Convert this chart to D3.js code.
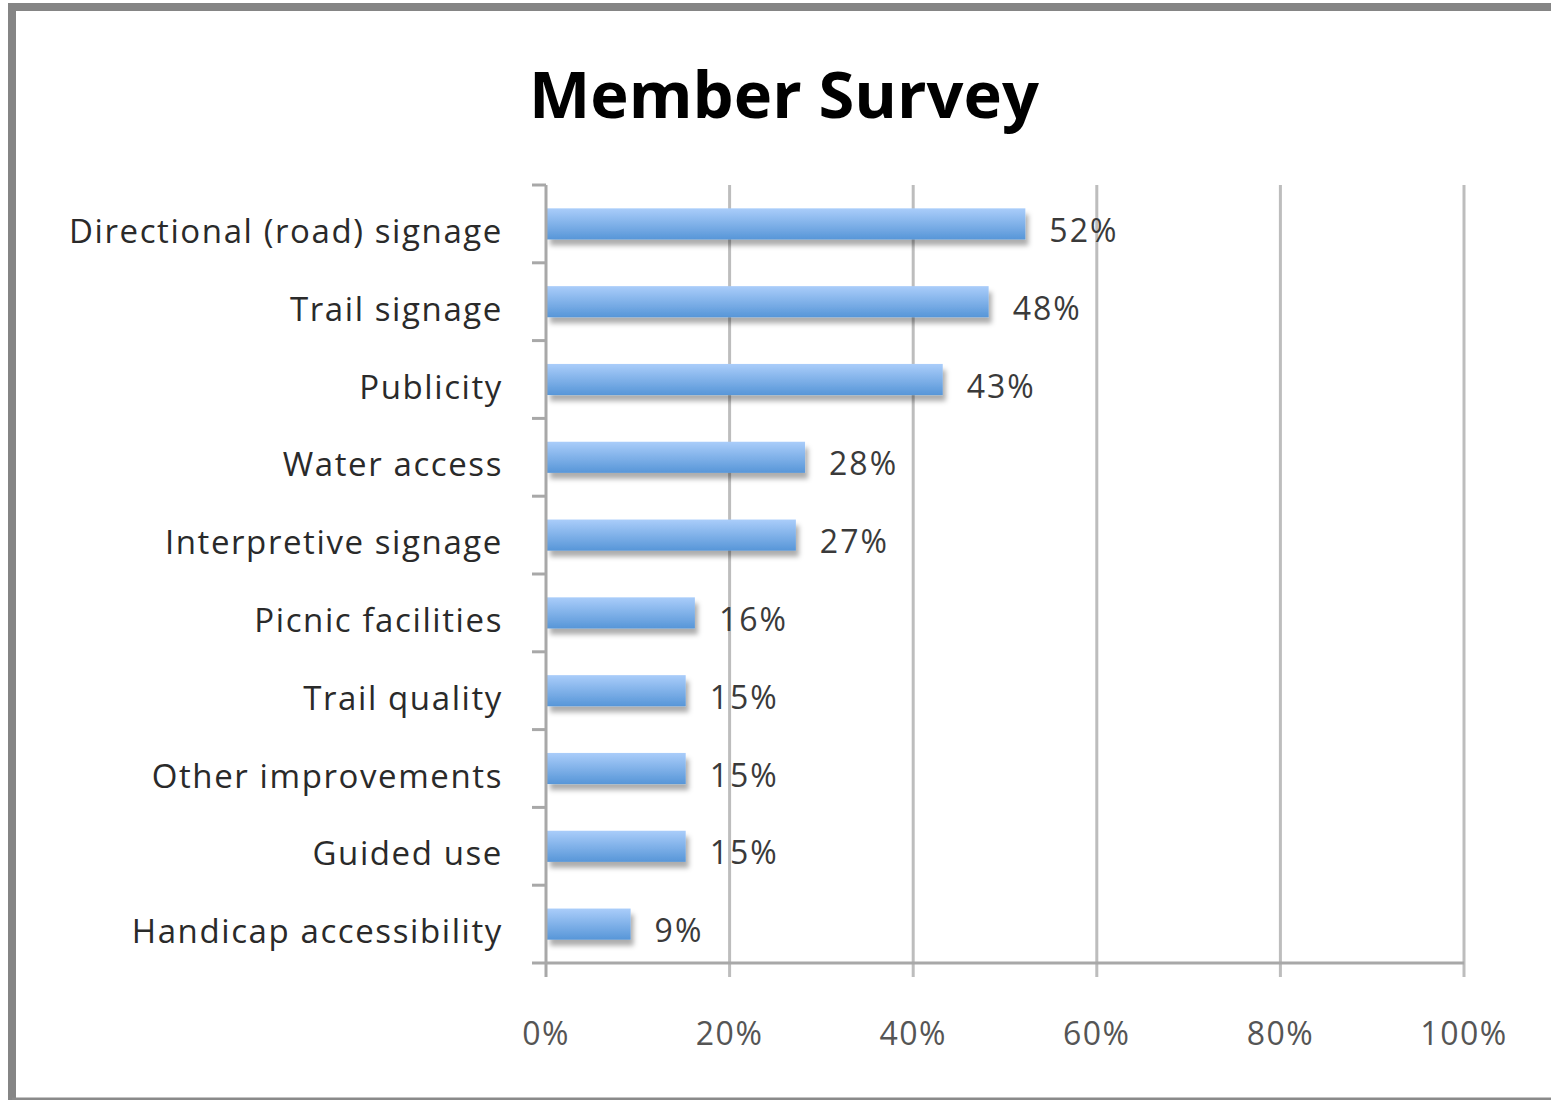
<!DOCTYPE html>
<html><head><meta charset="utf-8">
<script src="https://cdn.jsdelivr.net/npm/d3@7"></script>
<style>html,body{margin:0;padding:0;background:#fff;} svg{display:block;}</style>
</head><body>
<script>
const title = "Member Survey";
const categories = ["Directional (road) signage","Trail signage","Publicity","Water access","Interpretive signage","Picnic facilities","Trail quality","Other improvements","Guided use","Handicap accessibility"];
const values = [52,48,43,28,27,16,15,15,15,9];
const xTicks = [0,20,40,60,80,100];

const W = 1551, H = 1100;
const plot = {left:546, right:1464, top:185, bottom:963};
const svg = d3.select("body").append("svg").attr("width",W).attr("height",H);

const defs = svg.append("defs");
const grad = defs.append("linearGradient").attr("id","barGrad").attr("x1",0).attr("y1",0).attr("x2",0).attr("y2",1);
grad.append("stop").attr("offset","0%").attr("stop-color","#aacdfa");
grad.append("stop").attr("offset","100%").attr("stop-color","#5796d8");
const f = defs.append("filter").attr("id","shadow").attr("x","-5%").attr("y","-30%").attr("width","115%").attr("height","190%");
f.append("feDropShadow").attr("dx",3).attr("dy",6).attr("stdDeviation",2.5).attr("flood-color","#000").attr("flood-opacity",0.32);

// frame
svg.append("rect").attr("x",0).attr("y",0).attr("width",W).attr("height",H).attr("fill","#fff");
svg.append("line").attr("x1",12).attr("x2",W).attr("y1",7).attr("y2",7).attr("stroke","#858585").attr("stroke-width",8);
svg.append("line").attr("x1",12).attr("x2",12).attr("y1",3).attr("y2",H).attr("stroke","#858585").attr("stroke-width",8);
svg.append("line").attr("x1",12).attr("x2",W).attr("y1",1099).attr("y2",1099).attr("stroke","#8a8a8a").attr("stroke-width",3);

const x = d3.scaleLinear().domain([0,100]).range([plot.left, plot.right]);
const y = d3.scaleBand().domain(categories).range([plot.top, plot.bottom]).paddingInner(0.6).paddingOuter(0.3);
const yb = d3.scaleBand().domain(categories).range([plot.top, plot.bottom]);

// title
svg.append("text").attr("x",784).attr("y",118).attr("text-anchor","middle")
  .attr("font-family","Open Sans, sans-serif").attr("font-weight","bold").attr("font-size",65).attr("fill","#000").text(title);

// gridlines
svg.append("g").selectAll("line").data(xTicks.slice(1)).join("line")
  .attr("x1",d=>x(d)).attr("x2",d=>x(d)).attr("y1",plot.top).attr("y2",plot.bottom+14)
  .attr("stroke","#bdbdbd").attr("stroke-width",3);

// bars
svg.append("g").selectAll("rect").data(values).join("rect")
  .attr("x",x(0)+1).attr("y",(d,i)=>y(categories[i]))
  .attr("width",d=>x(d)-x(0)+1).attr("height",y.bandwidth())
  .attr("fill","url(#barGrad)").attr("filter","url(#shadow)");

// axes
svg.append("line").attr("x1",plot.left).attr("x2",plot.left).attr("y1",plot.top).attr("y2",plot.bottom+14)
  .attr("stroke","#a8a8a8").attr("stroke-width",3);
svg.append("line").attr("x1",plot.left-14).attr("x2",plot.right).attr("y1",plot.bottom).attr("y2",plot.bottom)
  .attr("stroke","#a8a8a8").attr("stroke-width",3);
const bounds = d3.range(categories.length).map(i=>yb(categories[i]));
svg.append("g").selectAll("line").data(bounds).join("line")
  .attr("x1",plot.left-14).attr("x2",plot.left).attr("y1",d=>d).attr("y2",d=>d)
  .attr("stroke","#a8a8a8").attr("stroke-width",3);

// category labels
svg.append("g").selectAll("text").data(categories).join("text")
  .attr("x",503).attr("y",d=>yb(d)+yb.bandwidth()/2+19).attr("text-anchor","end")
  .attr("font-family","Open Sans, sans-serif").attr("font-size",33).attr("letter-spacing",1.6).attr("fill","#2a2a2a").text(d=>d);

// value labels
svg.append("g").selectAll("text").data(values).join("text")
  .attr("x",d=>x(d)+26).attr("y",(d,i)=>yb(categories[i])+yb.bandwidth()/2+18)
  .attr("font-family","Open Sans, sans-serif").attr("font-size",32).attr("letter-spacing",2).attr("fill","#3a3a3a").text(d=>d+"%");

// x tick labels
svg.append("g").selectAll("text").data(xTicks).join("text")
  .attr("x",d=>x(d)).attr("y",1045).attr("text-anchor","middle")
  .attr("font-family","Open Sans, sans-serif").attr("font-size",32).attr("letter-spacing",1.5).attr("fill","#555").text(d=>d+"%");
</script>
</body></html>
